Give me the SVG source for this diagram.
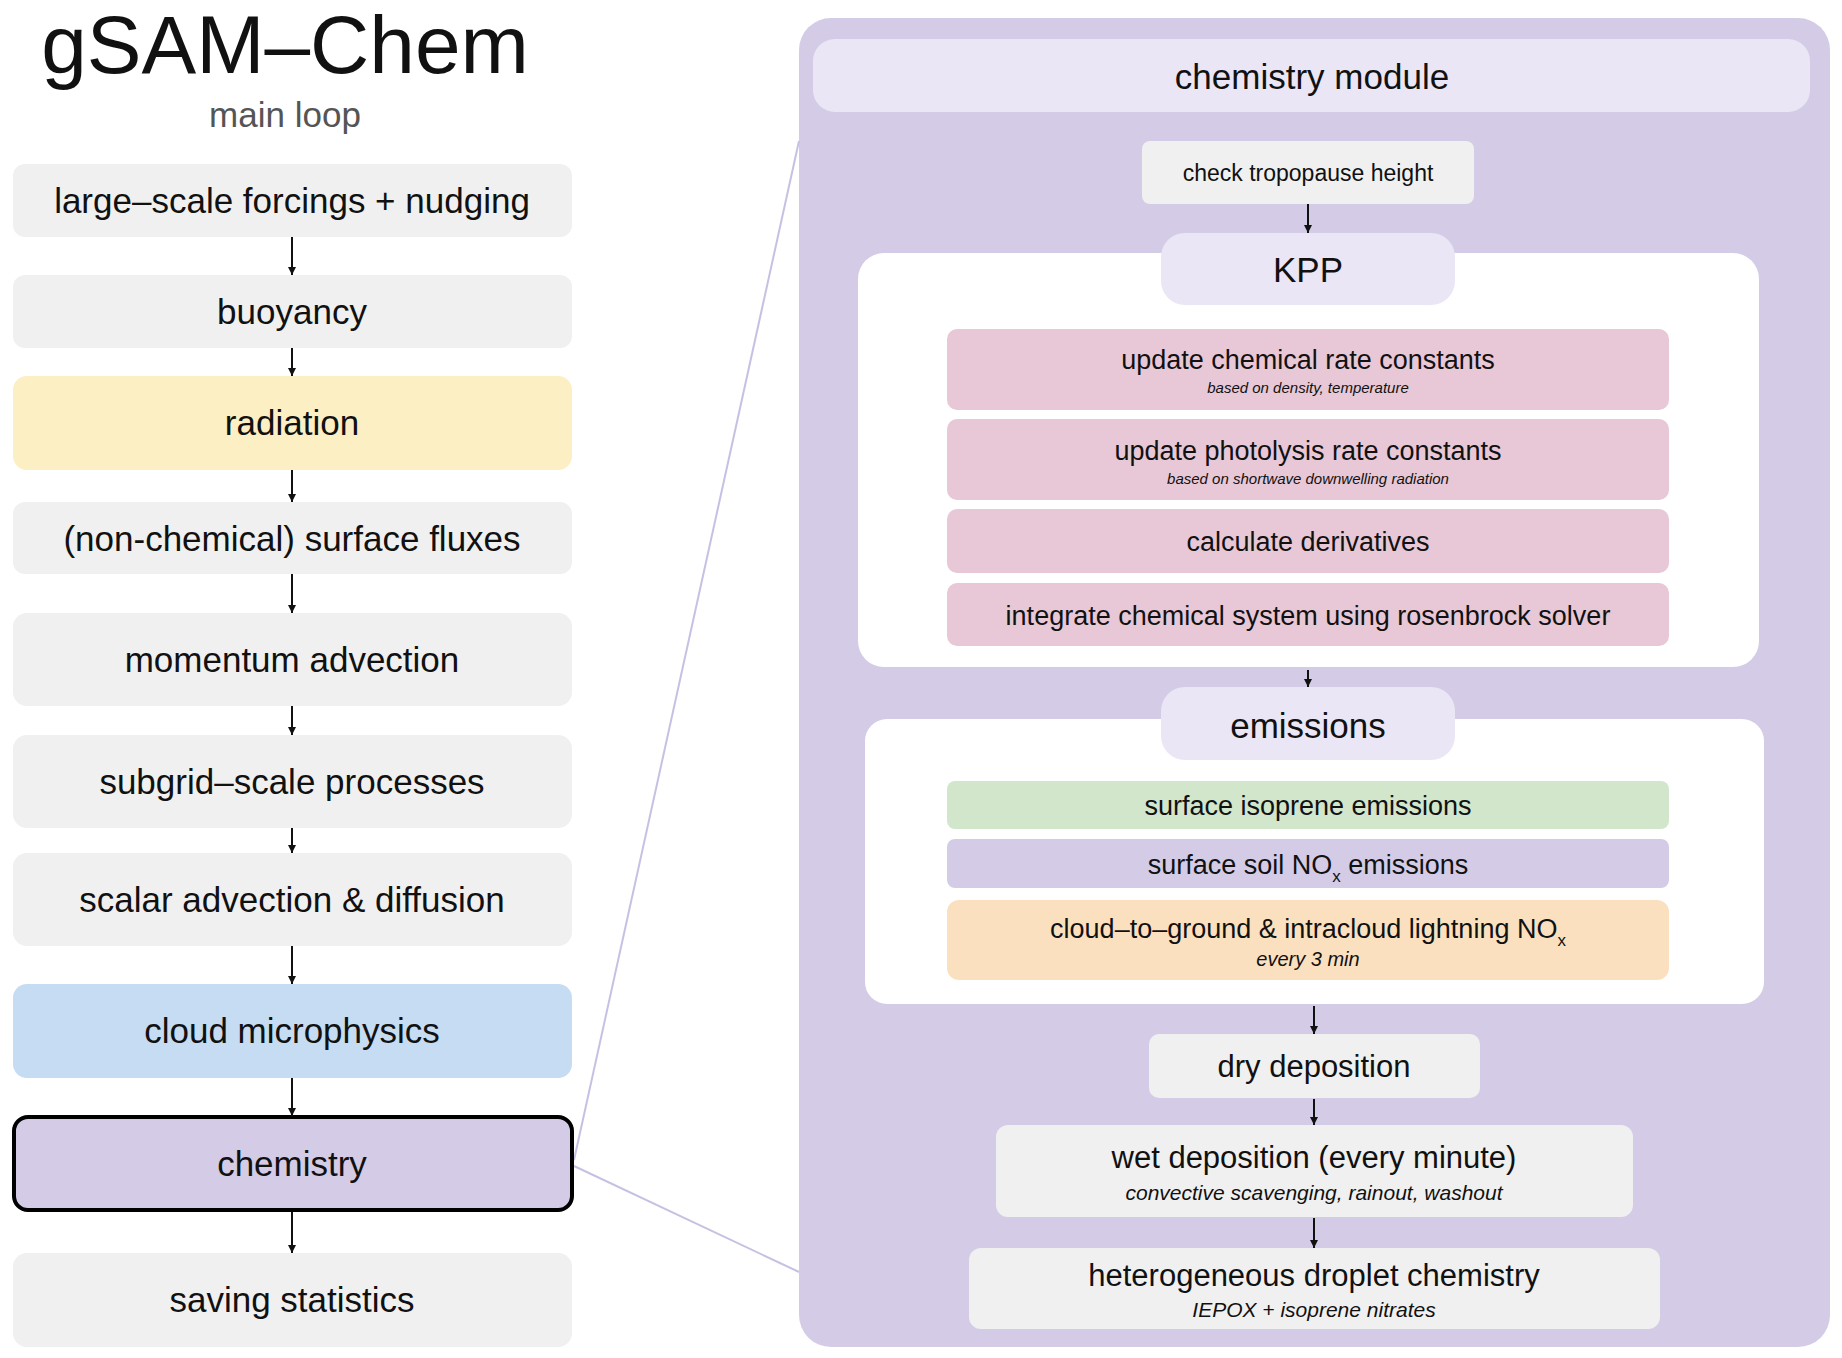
<svg xmlns="http://www.w3.org/2000/svg" width="1842" height="1358" viewBox="0 0 1842 1358">
<defs>
<marker id="ah" viewBox="0 0 10 10" refX="10" refY="5" markerWidth="8" markerHeight="8" markerUnits="userSpaceOnUse" orient="auto"><path d="M0,0 L10,5 L0,10 z" fill="#111"/></marker>
<style>
text{font-family:"Liberation Sans",Arial,sans-serif;fill:#111;text-anchor:middle}
.g{fill:#f0f0f0}
.t{font-size:35px}
.m{font-size:27px}
.s{font-size:15px;font-style:italic}
.c{stroke:#111;stroke-width:2;fill:none;marker-end:url(#ah)}
</style>
</defs>
<rect width="1842" height="1358" fill="#fff"/>
<text x="285" y="73" style="font-size:82px">gSAM–Chem</text>
<text x="285" y="127" style="font-size:35px;fill:#555">main loop</text>
<g id="panel">
<rect x="799" y="18" width="1031" height="1329" rx="32" fill="#d4cce6"/>
</g>
<g id="callout" stroke="#c8c0e2" stroke-width="2">
<line x1="574" y1="1160" x2="799" y2="141"/>
<line x1="574" y1="1166" x2="799" y2="1272"/>
</g>
<g id="n1"><rect class="g" x="13" y="164" width="559" height="73" rx="12"/><text class="t" x="292" y="213">large–scale forcings + nudging</text></g>
<g id="n2"><rect class="g" x="13" y="275" width="559" height="73" rx="12"/><text class="t" x="292" y="324">buoyancy</text></g>
<g id="n3"><rect x="13" y="376" width="559" height="94" rx="14" fill="#fcefc4"/><text class="t" x="292" y="435">radiation</text></g>
<g id="n4"><rect class="g" x="13" y="502" width="559" height="72" rx="12"/><text class="t" x="292" y="551">(non-chemical) surface fluxes</text></g>
<g id="n5"><rect class="g" x="13" y="613" width="559" height="93" rx="14"/><text class="t" x="292" y="672">momentum advection</text></g>
<g id="n6"><rect class="g" x="13" y="735" width="559" height="93" rx="14"/><text class="t" x="292" y="794">subgrid–scale processes</text></g>
<g id="n7"><rect class="g" x="13" y="853" width="559" height="93" rx="14"/><text class="t" x="292" y="912">scalar advection &amp; diffusion</text></g>
<g id="n8"><rect x="13" y="984" width="559" height="94" rx="14" fill="#c6dcf2"/><text class="t" x="292" y="1043">cloud microphysics</text></g>
<g id="n9"><rect x="14" y="1117" width="558" height="93" rx="14" fill="#d4cce6" stroke="#000" stroke-width="4"/><text class="t" x="292" y="1176">chemistry</text></g>
<g id="n10"><rect class="g" x="13" y="1253" width="559" height="94" rx="14"/><text class="t" x="292" y="1312">saving statistics</text></g>
<g id="hdr"><rect x="813" y="39" width="997" height="73" rx="22" fill="#ebe6f5"/><text class="t" x="1312" y="89">chemistry module</text></g>
<g id="trop"><rect class="g" x="1142" y="141" width="332" height="63" rx="8"/><text x="1308" y="181" style="font-size:23px">check tropopause height</text></g>
<g id="kpp">
<rect x="858" y="253" width="901" height="414" rx="26" fill="#fff"/>
<rect x="1161" y="233" width="294" height="72" rx="24" fill="#ebe6f5"/><text class="t" x="1308" y="282">KPP</text>
</g>
<g id="k1"><rect x="947" y="329" width="722" height="81" rx="10" fill="#e8c8d6"/><text class="m" x="1308" y="369">update chemical rate constants</text><text class="s" x="1308" y="393">based on density, temperature</text></g>
<g id="k2"><rect x="947" y="419" width="722" height="81" rx="10" fill="#e8c8d6"/><text class="m" x="1308" y="460">update photolysis rate constants</text><text class="s" x="1308" y="484">based on shortwave downwelling radiation</text></g>
<g id="k3"><rect x="947" y="509" width="722" height="64" rx="10" fill="#e8c8d6"/><text class="m" x="1308" y="551">calculate derivatives</text></g>
<g id="k4"><rect x="947" y="583" width="722" height="63" rx="10" fill="#e8c8d6"/><text class="m" x="1308" y="625">integrate chemical system using rosenbrock solver</text></g>
<g id="emis">
<rect x="865" y="719" width="899" height="285" rx="22" fill="#fff"/>
<rect x="1161" y="687" width="294" height="73" rx="24" fill="#ebe6f5"/><text class="t" x="1308" y="738">emissions</text>
</g>
<g id="e1"><rect x="947" y="781" width="722" height="48" rx="8" fill="#d2e6cc"/><text class="m" x="1308" y="815">surface isoprene emissions</text></g>
<g id="e2"><rect x="947" y="839" width="722" height="49" rx="8" fill="#d4cce6"/><text class="m" x="1308" y="874">surface soil NO<tspan dy="8" style="font-size:17px">x</tspan><tspan dy="-8"> emissions</tspan></text></g>
<g id="e3"><rect x="947" y="900" width="722" height="80" rx="12" fill="#fbe0c0"/><text class="m" x="1308" y="938">cloud–to–ground &amp; intracloud lightning NO<tspan dy="8" style="font-size:17px">x</tspan></text><text x="1308" y="966" style="font-size:20px;font-style:italic">every 3 min</text></g>
<g id="dry"><rect class="g" x="1149" y="1034" width="331" height="64" rx="10"/><text x="1314" y="1077" style="font-size:31px">dry deposition</text></g>
<g id="wet"><rect class="g" x="996" y="1125" width="637" height="92" rx="12"/><text x="1314" y="1168" style="font-size:31px">wet deposition (every minute)</text><text x="1314" y="1200" style="font-size:21px;font-style:italic">convective scavenging, rainout, washout</text></g>
<g id="het"><rect class="g" x="969" y="1248" width="691" height="81" rx="12"/><text x="1314" y="1286" style="font-size:31px">heterogeneous droplet chemistry</text><text x="1314" y="1317" style="font-size:21px;font-style:italic">IEPOX + isoprene nitrates</text></g>
<g id="connectors">
<line class="c" x1="292" y1="237" x2="292" y2="275"/>
<line class="c" x1="292" y1="348" x2="292" y2="376"/>
<line class="c" x1="292" y1="470" x2="292" y2="502"/>
<line class="c" x1="292" y1="574" x2="292" y2="613"/>
<line class="c" x1="292" y1="706" x2="292" y2="735"/>
<line class="c" x1="292" y1="828" x2="292" y2="853"/>
<line class="c" x1="292" y1="946" x2="292" y2="984"/>
<line class="c" x1="292" y1="1078" x2="292" y2="1116"/>
<line class="c" x1="292" y1="1212" x2="292" y2="1253"/>
<line class="c" x1="1308" y1="204" x2="1308" y2="233"/>
<line class="c" x1="1308" y1="670" x2="1308" y2="687"/>
<line class="c" x1="1314" y1="1006" x2="1314" y2="1034"/>
<line class="c" x1="1314" y1="1099" x2="1314" y2="1125"/>
<line class="c" x1="1314" y1="1218" x2="1314" y2="1248"/>
</g>
</svg>
